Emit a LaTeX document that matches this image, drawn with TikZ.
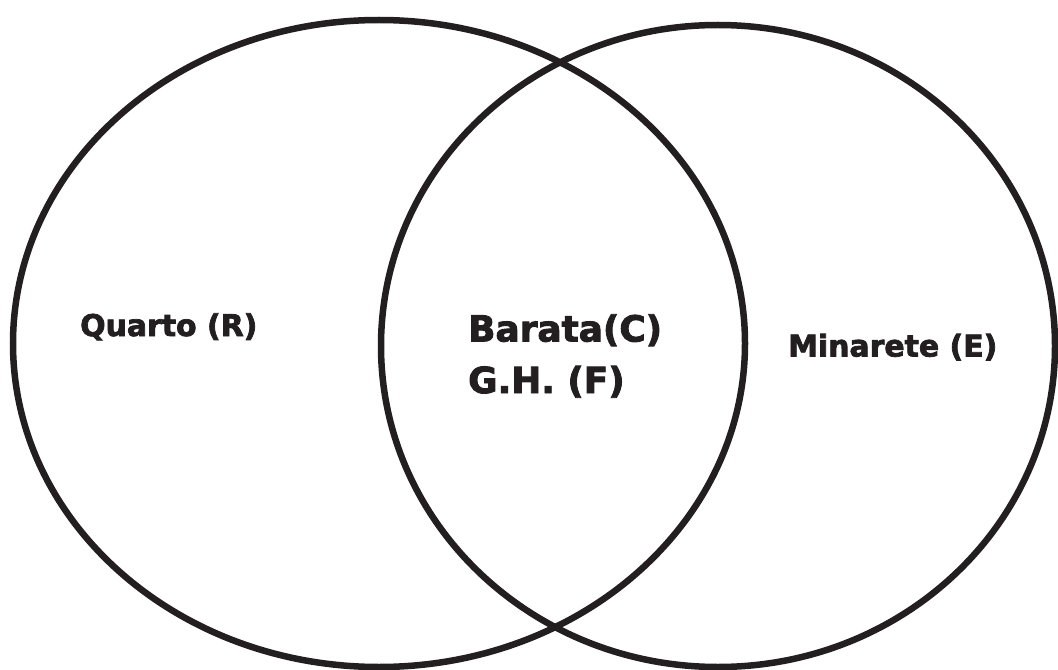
\documentclass[tikz,border=0pt]{standalone}
\usepackage{fontspec}
\setmainfont{DejaVu Sans}
\newfontfamily\heavyfont{DejaVu Sans Bold}[FakeBold=2.5]
\definecolor{ink}{HTML}{231F20}
\begin{document}
\begin{tikzpicture}[x=1bp,y=-1bp,
  ring/.style={draw=ink,line width=6.5bp},
  sidelabel/.style={anchor=base west,inner sep=0pt,text=ink,font=\heavyfont\fontsize{30}{36}\selectfont},
  midlabel/.style={anchor=base west,inner sep=0pt,text=ink,font=\heavyfont\fontsize{36}{43}\selectfont}]
\useasboundingbox (0,0) rectangle (1058,670);
\draw[ring] (379,343.5) ellipse [x radius=366, y radius=323.5];
\draw[ring] (718,346) ellipse [x radius=337, y radius=321];
\node[sidelabel] (quarto) at (80,336) {Quarto (R)};
\node[sidelabel] (minarete) at (788,356.5) {Minarete (E)};
\node[midlabel] (barata) at (468,341.5) {Barata(C)};
\node[midlabel] (gh) at (468,393) {G.H. (F)};
\end{tikzpicture}
\end{document}
